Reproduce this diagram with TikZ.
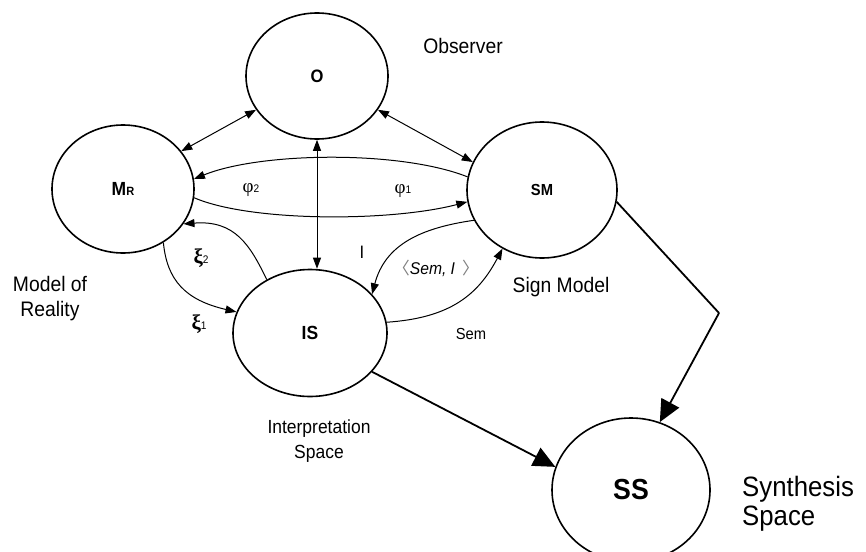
\documentclass[tikz,border=0pt]{standalone}
\usepackage{fontspec}
\setmainfont{Liberation Sans}
\newfontfamily\nf[FakeStretch=0.92]{Liberation Sans}
\newfontfamily\serifgr{Liberation Serif}
\newfontfamily\cjkb{Noto Sans CJK SC}
\usetikzlibrary{arrows.meta,shapes.geometric}
\begin{document}
\begin{tikzpicture}[x=1pt,y=-1pt,
  ell/.style={ellipse, draw, line width=1.6pt, fill=white, inner sep=0pt},
  lab/.style={font=\nf\fontsize{21}{25}\selectfont, inner sep=0pt},
  small/.style={font=\nf\fontsize{16}{18}\selectfont, inner sep=0pt},
  arr/.style={line width=1pt, -{Triangle[length=11pt,width=8pt]}},
  dbl/.style={line width=1pt, {Triangle[length=11pt,width=8pt]}-{Triangle[length=11pt,width=8pt]}},
  bigarr/.style={line width=1.8pt, -{Triangle[length=22pt,width=20pt]}}]
\useasboundingbox (0,0) rectangle (866,551);
\fill[white] (0,0) rectangle (866,551);
% ellipses
\node[ell, minimum width=142pt, minimum height=126pt, font=\nf\bfseries\fontsize{18}{18}\selectfont] (o) at (317,76) {O};
\node[ell, minimum width=142pt, minimum height=128pt, font=\nf\bfseries\fontsize{19}{19}\selectfont] (mr) at (123,189) {M{\fontsize{12}{12}\selectfont R}};
\node[ell, minimum width=150pt, minimum height=136pt, font=\nf\bfseries\fontsize{16}{16}\selectfont] (sm) at (542,190) {SM};
\node[ell, minimum width=154pt, minimum height=127pt, font=\nf\bfseries\fontsize{19}{19}\selectfont] (is) at (310,333) {IS};
\node[ell, minimum width=158pt, minimum height=144pt, font=\nf\bfseries\fontsize{29}{29}\selectfont] (ss) at (631,490) {SS};
% connectors
\draw[dbl] (o.209) -- (mr.33);
\draw[dbl] (o.-29) -- (sm.158);
\draw[dbl] (o.south) -- (o.south |- is.north);
\draw[arr] (sm.170) .. controls (400,150) and (260,152) .. (mr.8);
\draw[arr] (mr.-7) .. controls (250,222) and (390,222) .. (sm.-171);
\draw[arr] (is.129) .. controls (250,245) and (235,220) .. (mr.-30);
\draw[arr] (mr.-53) .. controls (167,280) and (185,300) .. (is.164);
\draw[arr] (sm.-156.5) .. controls (420,228) and (385,245) .. (is.32);
\draw[arr] (is.8) .. controls (450,318) and (478,295) .. (sm.-124);
\coordinate (bend) at (719,313);
\draw[line width=1.8pt] (sm.-9.5) -- (bend);
\draw[bigarr] (bend) -- (ss.67.5);
\draw[bigarr] (is.-32) -- (ss.163);
% labels
\node[lab] (obs) at (463,46) {Observer};
\node[lab, align=center] (mor) at (50,299) {Model of\\Reality};
\node[lab] (sgn) at (561,287) {Sign Model};
\node[lab, font=\nf\fontsize{19}{25}\selectfont, align=center] (isp) at (319,441) {Interpretation\\Space};
\node[font=\nf\fontsize{28}{29}\selectfont, inner sep=0pt, align=left, anchor=west] (syn) at (742,504) {Synthesis\\Space};
\node[inner sep=0pt] (phi2) at (251,190) {{\serifgr\fontsize{19}{19}\selectfont φ}{\nf\fontsize{11}{11}\selectfont 2}};
\node[inner sep=0pt] (phi1) at (403,191) {{\serifgr\fontsize{19}{19}\selectfont φ}{\nf\fontsize{11}{11}\selectfont 1}};
\node[inner sep=0pt] (xi2) at (201,258) {{\serifgr\bfseries\fontsize{21}{21}\selectfont ξ}{\nf\fontsize{11}{11}\selectfont 2}};
\node[inner sep=0pt] (xi1) at (199,324) {{\serifgr\bfseries\fontsize{21}{21}\selectfont ξ}{\nf\fontsize{11}{11}\selectfont 1}};
\node[small, font=\nf\fontsize{18}{18}\selectfont] (ilab) at (362,252) {I};
\node[small, font=\nf\fontsize{17}{18}\selectfont] (semi) at (436,268) {{\cjkb\color{gray}〈}\textit{Sem, I}\hspace{7pt}{\cjkb\color{gray}〉}};
\node[small] (sem) at (471,334) {Sem};
\end{tikzpicture}
\end{document}
